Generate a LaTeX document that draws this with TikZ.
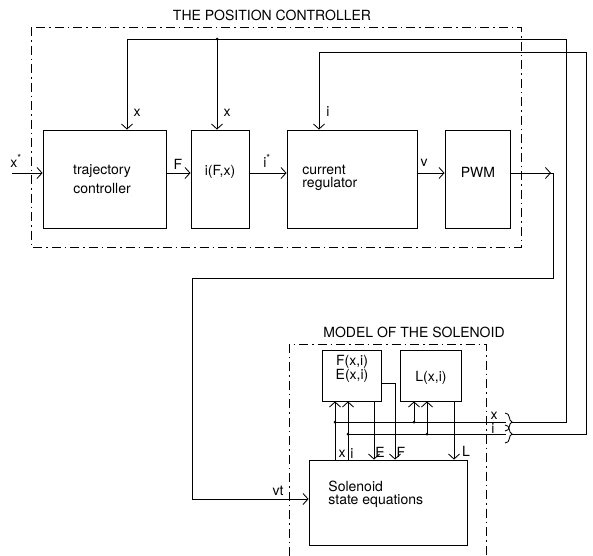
\documentclass[tikz,border=0pt]{standalone}
\usepackage{fontspec}
\setmainfont{TeX Gyre Heros}
\usetikzlibrary{arrows.meta,calc}
\begin{document}
\begin{tikzpicture}[x=1pt,y=-1pt,line width=0.85pt,
  >={Straight Barb[length=5pt,width=11pt,line width=0.85pt]},
  every node/.style={font=\fontsize{14}{13}\selectfont, inner sep=0pt},
  blk/.style 2 args={draw, minimum width=#1, minimum height=#2},
  ddot/.style={line width=0.8pt, dash pattern=on 9pt off 4pt on 1.5pt off 4pt},
  dot/.style={circle, fill, minimum size=3pt, inner sep=0pt},
  lbl/.style={font=\fontsize{14}{13}\selectfont}]
\useasboundingbox (0,0) rectangle (593,555);

% frames
\draw[ddot] (31,27) rectangle (521,247);
\draw[ddot] (289,556) -- (289,344) -- (486,344) -- (486,556);
\node (t1) at (272,15) {THE POSITION CONTROLLER};
\node (t2) at (414,332) {MODEL OF THE SOLENOID};

% blocks
\node[blk={123pt}{98pt}] (traj) at (104.5,179) {};
\node[blk={58pt}{98pt}] (ifx) at (220,179) {};
\node[blk={130pt}{98pt}] (cur) at (352,179) {};
\node[blk={65pt}{98pt}] (pwm) at (477.5,179) {};
\node[blk={59pt}{51pt}] (fe) at (351.5,375.5) {};
\node[blk={61pt}{51pt}] (lx) at (430.5,375.5) {};
\node[blk={158pt}{85pt}] (sol) at (388,502.5) {};

% block texts
\node[align=center] (trajt) at (102,179) {trajectory\\[5pt]controller};
\node (ifxt) at (220,172) {i(F,x)};
\node[align=left, anchor=west] (curt) at (302,178) {current\\regulator};
\node (pwmt) at (478,172) {PWM};
\node[align=center] (fet) at (352,369) {F(x,i)\\E(x,i)};
\node (lt) at (431,378) {L(x,i)};
\node[align=left, anchor=west] (solt) at (328,494) {Solenoid\\state equations};

% coordinates
\coordinate (xin) at (12,173);
\coordinate (xb) at (335,422);
\coordinate (ib) at (348,434);
\coordinate (xbL) at (414,422);
\coordinate (ibL) at (427,434);
\coordinate (xs) at (217,39);

% main forward path
\draw[->] (xin) -- (traj.west |- xin);
\draw[->] (traj.east |- 0,173) -- (ifx.west |- 0,173);
\draw[->] (ifx.east |- 0,173) -- (cur.west |- 0,173);
\draw[->] (cur.east |- 0,173) -- (pwm.west |- 0,173);
\draw[->] (pwm.east |- 0,173) -- (551,173);
\draw[->] (pwm.east |- 0,173) -- (553,173) -- (553,278) -- (192,278) -- (192,499) -- (sol.west |- 0,499);

% x feedback
\draw (xb) -- (506,422);
\draw[->] (512,422) -- (566,422) -- (566,39) -- (127,39) -- (traj.north -| 127,0);
\draw[->] (xs) -- (ifx.north -| xs);
% i feedback
\draw (ib) -- (506,434);
\draw[->] (512,434) -- (586,434) -- (586,52) -- (319,52) -- (cur.north -| 319,0);

% curls
\draw (505,413) .. controls (511,413) and (508,421) .. (512,422) .. controls (508,423) and (511,431) .. (505,431);
\draw (505,425) .. controls (511,425) and (508,433) .. (512,434) .. controls (508,435) and (511,443) .. (505,443);

% solenoid internals
\draw[->] (sol.north -| xb) -- (fe.south -| xb);
\draw[->] (sol.north -| ib) -- (fe.south -| ib);
\draw[->] (fe.south -| 374,0) -- (sol.north -| 374,0);
\draw[->] (fe.east |- 0,383) -- (395,383) -- (sol.north -| 395,0);
\draw[->] (xbL) -- (lx.south -| xbL);
\draw[->] (ibL) -- (lx.south -| ibL);
\draw[->] (lx.south -| 454,0) -- (sol.north -| 454,0);

% junction dots
\node[dot] (d1) at (xs) {};
\node[dot] (d2) at (xb) {};
\node[dot] (d3) at (ib) {};
\node[dot] (d4) at (xbL) {};
\node[dot] (d5) at (ibL) {};

% labels
\node (lxs) at (16,161) {x\textsuperscript{*}};
\node (lx1) at (137,113) {x};
\node (lx2) at (227,113) {x};
\node (li1) at (328,112) {i};
\node (lF) at (178,164) {F};
\node (lis) at (267,161) {i\textsuperscript{*}};
\node (lv) at (424,163) {v};
\node (lvt) at (278,491) {vt};
\node (lx3) at (342,454) {x};
\node (li3) at (352,454) {i};
\node (lE) at (380,452) {E};
\node (lF2) at (401,452) {F};
\node (lL) at (466,451) {L};
\node (lx4) at (494,416) {x};
\node (li4) at (493,429) {i};
\end{tikzpicture}
\end{document}
